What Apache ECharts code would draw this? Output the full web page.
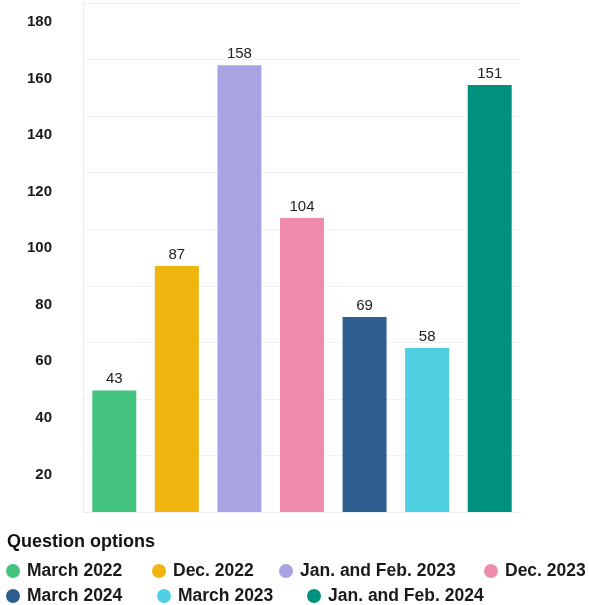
<!DOCTYPE html>
<html>
<head>
<meta charset="utf-8">
<script src="https://cdn.jsdelivr.net/npm/echarts@6/dist/echarts.min.js"></script>
<style>
html,body{margin:0;padding:0;background:#fff;}
#chart{width:589px;height:605px;}
</style>
</head>
<body>
<div id="chart"></div>
<script>
const categories = ['March 2022','Dec. 2022','Jan. and Feb. 2023','Dec. 2023','March 2024','March 2023','Jan. and Feb. 2024'];
const values = [43, 87, 158, 104, 69, 58, 151];
const colors = ['#45c47f','#f0b40e','#aaa3e3','#f08bb0','#2f5f91','#4fd0e0','#00917f'];
const yMin = 0, yMax = 180, yStep = 20;
const legendTitle = 'Question options';

const legendPos = [
  {left: 6, top: 562}, {left: 152, top: 562}, {left: 279, top: 562}, {left: 484, top: 562},
  {left: 6, top: 587}, {left: 157, top: 587}, {left: 307, top: 587}
];

const font = '"Liberation Sans", Arial, Helvetica, sans-serif';

const series = categories.map((name, i) => ({
  name: name,
  type: 'bar',
  stack: 'all',
  barWidth: 44,
  itemStyle: {color: colors[i]},
  label: {
    show: true, position: 'top', distance: 4,
    fontFamily: font, fontSize: 15, color: '#222', fontWeight: 'normal'
  },
  data: categories.map((c, j) => j === i ? values[i] : '-')
}));

const legends = categories.map((name, i) => ({
  data: [name],
  left: legendPos[i].left,
  top: legendPos[i].top,
  padding: 0,
  icon: 'circle',
  itemWidth: 14, itemHeight: 14, itemGap: 0,
  selectedMode: false,
  textStyle: {fontFamily: font, fontSize: 17.5, fontWeight: 'bold', color: '#1a1a1a', padding: [0, 0, 0, 2]}
}));

const chart = echarts.init(document.getElementById('chart'), null, {renderer: 'canvas'});
chart.setOption({
  animation: false,
  backgroundColor: '#fff',
  title: {
    text: legendTitle, left: 7, top: 533, padding: 0,
    textStyle: {fontFamily: font, fontSize: 18, fontWeight: 'bold', color: '#111'}
  },
  legend: legends,
  grid: {left: 83, right: 68, top: 3, bottom: 93, containLabel: false},
  xAxis: {
    type: 'category', data: categories,
    axisLine: {show: true, lineStyle: {color: '#e8eef4'}},
    axisTick: {show: false},
    axisLabel: {show: false},
    splitLine: {show: false}
  },
  yAxis: {
    type: 'value', min: yMin, max: yMax, interval: yStep,
    axisLine: {show: true, lineStyle: {color: '#e3eaf2'}},
    axisTick: {show: false},
    splitLine: {show: true, lineStyle: {color: '#f3f3f3'}},
    axisLabel: {
      margin: 31, fontFamily: font, fontSize: 15, fontWeight: 'bold', color: '#1a1a1a',
      verticalAlign: 'top', lineHeight: 38,
      formatter: v => v === 0 ? '' : String(v)
    }
  },
  series: series
});
</script>
</body>
</html>
